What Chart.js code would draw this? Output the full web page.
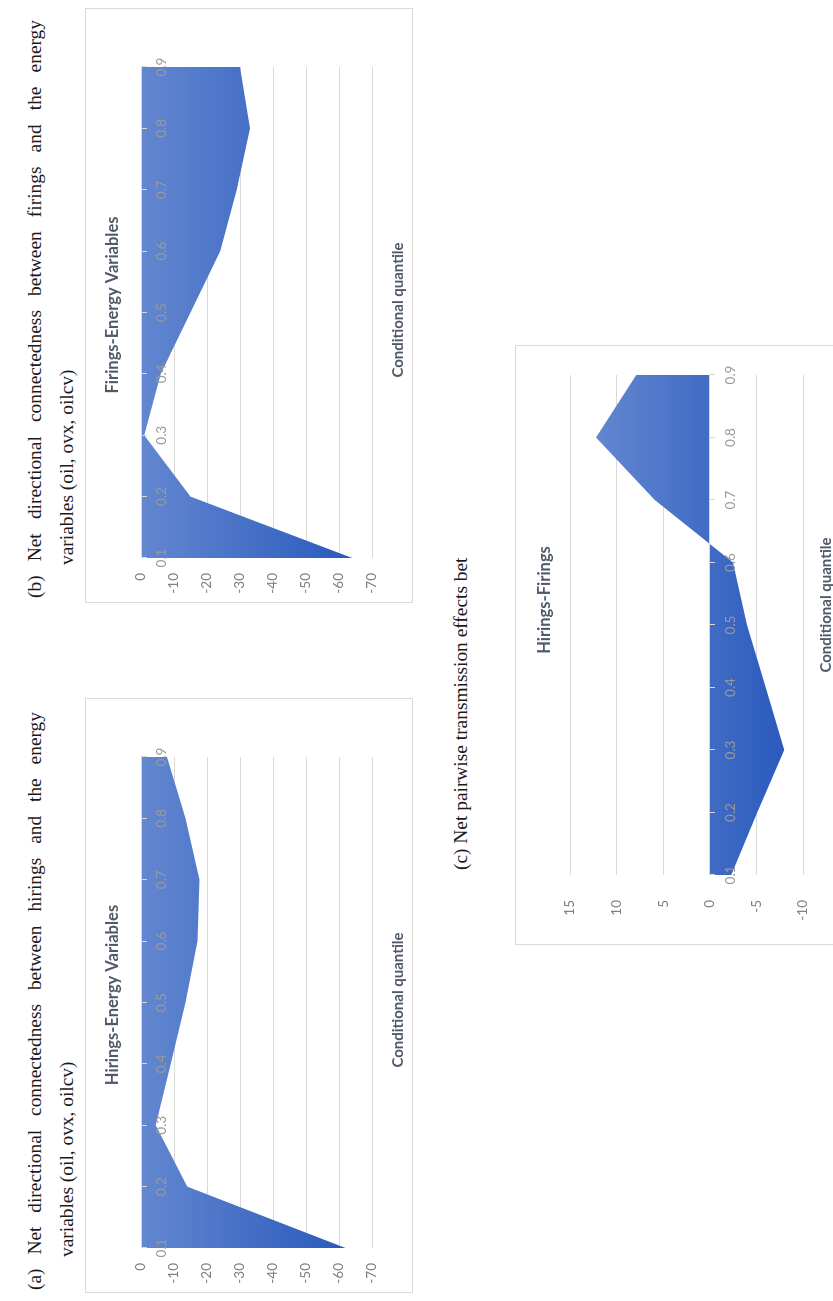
<!DOCTYPE html>
<html>
<head>
<meta charset="utf-8">
<title>Net connectedness by conditional quantile</title>
<script src="https://cdn.jsdelivr.net/npm/chart.js@4.4.1/dist/chart.umd.min.js"></script>
<style>
  html, body { margin: 0; padding: 0; background: #fff; width: 833px; height: 1301px; overflow: hidden; }
  /* The figure page is laid out landscape and turned a quarter turn counter-clockwise */
  #page { position: absolute; left: 0; top: 0; width: 1301px; height: 833px;
          transform-origin: 0 0; transform: translate(0, 1301px) rotate(-90deg); background: #fff; }
  .cap { position: absolute; font-family: "Liberation Serif", "Times New Roman", serif;
         font-size: 19.4px; line-height: 20px; color: #1a1a1a; white-space: nowrap; }
  .cap.full { width: 578px; text-align: justify; text-align-last: justify; white-space: normal; }
  .box { position: absolute; border: 1px solid #d9d9d9; background: #fff; }
  .box canvas { position: absolute; left: 0; top: 0; }
</style>
</head>
<body>
<div id="page">
  <div class="cap full" style="left:11px; top:25px;">(a) Net directional connectedness between hirings and the energy</div>
  <div class="cap" style="left:44px; top:57px;">variables (oil, ovx, oilcv)</div>
  <div class="box" style="left:8px; top:85px; width:593px; height:326px;"><canvas id="chartA" width="593" height="326"></canvas></div>

  <div class="cap full" style="left:703px; top:25px;">(b) Net directional connectedness between firings and the energy</div>
  <div class="cap" style="left:736px; top:57px;">variables (oil, ovx, oilcv)</div>
  <div class="box" style="left:698px; top:85px; width:593px; height:326px;"><canvas id="chartB" width="593" height="326"></canvas></div>

  <div class="cap" style="left:431px; top:451px;">(c) Net pairwise transmission effects bet</div>
  <div class="box" style="left:356px; top:515px; width:598px; height:328px;"><canvas id="chartC" width="598" height="328"></canvas></div>
</div>

<script>
// Conditional quantiles on the category axis
const quantiles = ['0.1', '0.2', '0.3', '0.4', '0.5', '0.6', '0.7', '0.8', '0.9'];

// Net directional connectedness, hirings vs. energy variables
const hiringsEnergy = [-62, -14, -4.5, -9, -13.5, -17.1, -17.7, -13.5, -7.9];
// Net directional connectedness, firings vs. energy variables
const firingsEnergy = [-64, -15, -1, -6, -15, -24, -29, -33, -30];
// Net pairwise transmission, hirings vs. firings
const hiringsFirings = [-2.3, -5.1, -8.0, -6.0, -4.0, -2.5, 5.9, 12.2, 7.9];

// Value-axis tick labels
const energyTicks = [0, -10, -20, -30, -40, -50, -60, -70];
const pairTicks = [15, 10, 5, 0, -5, -10];

const FONT = 'Lato, "Open Sans", "Noto Sans", sans-serif';
const GRID = '#d9d9d9';
const TICK_TEXT = '#7f7f7f';
const CAT_TEXT = '#9a9a9a';
const TITLE_TEXT = '#4f596a';

// Chart title and category-axis caption, placed by canvas coordinates
function chartTexts(title, s) {
  return {
    id: 'chartTexts',
    afterDraw(chart) {
      const ctx = chart.ctx;
      ctx.save();
      ctx.fillStyle = TITLE_TEXT;
      ctx.textAlign = 'center';
      ctx.textBaseline = 'middle';
      ctx.font = 'bold 16.5px ' + FONT;
      ctx.fillText(title, s.titleX, s.titleY);
      ctx.font = 'bold 15px ' + FONT;
      ctx.fillText('Conditional quantile', s.captionX, s.captionY);
      ctx.restore();
    }
  };
}

// Vertical gradient over the filled band: lighter near the top, deeper blue at the bottom
function areaFill(c) {
  const chart = c.chart;
  const { chartArea, scales } = chart;
  if (!chartArea) return '#4472c4';
  const vals = chart.data.datasets[0].data;
  const top = scales.y.getPixelForValue(Math.max(0, ...vals));
  const bottom = scales.y.getPixelForValue(Math.min(0, ...vals));
  const g = chart.ctx.createLinearGradient(0, top, 0, bottom);
  g.addColorStop(0, '#6387d0');
  g.addColorStop(1, '#2a5abd');
  return g;
}

function makeChart(id, values, ticks, title, s) {
  return new Chart(document.getElementById(id), {
    type: 'line',
    data: {
      labels: quantiles,
      datasets: [{
        data: values,
        fill: 'origin',
        backgroundColor: areaFill,
        borderWidth: 0,
        borderColor: 'rgba(0,0,0,0)',
        pointRadius: 0,
        pointHoverRadius: 0,
        tension: 0
      }]
    },
    options: {
      responsive: false,
      animation: false,
      events: [],
      layout: { padding: { left: 0, top: s.top, right: s.right, bottom: s.bottom } },
      scales: {
        x: {
          type: 'category',
          position: { y: 0 },
          offset: false,
          grid: { display: true, drawOnChartArea: false, drawTicks: true, tickLength: 5, color: GRID, offset: false, z: 1 },
          border: { display: true, color: GRID, width: 1, z: 1 },
          ticks: { color: CAT_TEXT, font: { family: FONT, size: 13.5 }, padding: 8, maxRotation: 0, autoSkip: false, z: 1 }
        },
        y: {
          min: ticks[ticks.length - 1],
          max: ticks[0],
          afterBuildTicks: (scale) => { scale.ticks = ticks.map(v => ({ value: v })); },
          afterFit: (scale) => { scale.width = s.axisWidth; },
          grid: { color: GRID, lineWidth: 1, drawTicks: false },
          border: { display: false },
          ticks: { color: TICK_TEXT, font: { family: FONT, size: 13.5 }, padding: s.labelGap }
        }
      },
      plugins: {
        legend: { display: false },
        tooltip: { enabled: false },
        title: { display: false }
      }
    },
    plugins: [chartTexts(title, s)]
  });
}

const energyLayout = { top: 55, right: 58, bottom: 40, axisWidth: 44, labelGap: 15,
                       titleX: 297, titleY: 27, captionX: 292, captionY: 312 };
const pairLayout = { top: 54, right: 29, bottom: 41, axisWidth: 69, labelGap: 25,
                     titleX: 344, titleY: 29, captionX: 339, captionY: 310 };

makeChart('chartA', hiringsEnergy, energyTicks, 'Hirings-Energy Variables', energyLayout);
makeChart('chartB', firingsEnergy, energyTicks, 'Firings-Energy Variables', energyLayout);
makeChart('chartC', hiringsFirings, pairTicks, 'Hirings-Firings', pairLayout);
</script>
</body>
</html>
